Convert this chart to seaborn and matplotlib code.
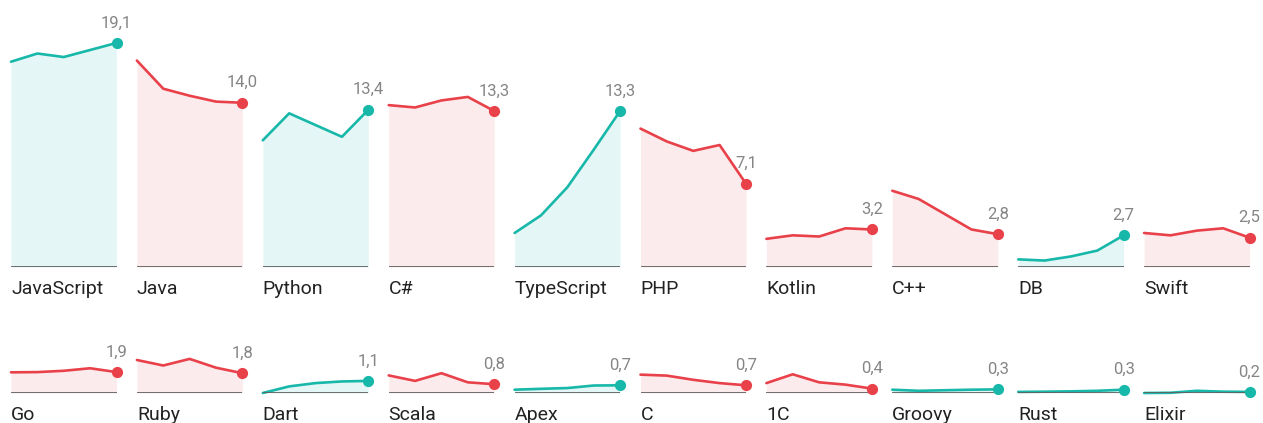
import matplotlib
matplotlib.use("Agg")
import matplotlib.pyplot as plt
import seaborn as sns
import pandas as pd

# languages, top row and bottom row
languages_top = ["JavaScript", "Java", "Python", "C#", "TypeScript",
                 "PHP", "Kotlin", "C++", "DB", "Swift"]
languages_bottom = ["Go", "Ruby", "Dart", "Scala", "Apex",
                    "C", "1C", "Groovy", "Rust", "Elixir"]

# share of vacancies (%), five periods each
values_top = [
    [17.5, 18.2, 17.9, 18.5, 19.1],
    [17.6, 15.2, 14.6, 14.1, 14.0],
    [10.8, 13.1, 12.1, 11.1, 13.4],
    [13.8, 13.6, 14.2, 14.5, 13.3],
    [2.9, 4.4, 6.8, 10.0, 13.3],
    [11.8, 10.7, 9.9, 10.4, 7.1],
    [2.4, 2.7, 2.6, 3.3, 3.2],
    [6.5, 5.8, 4.5, 3.2, 2.8],
    [0.65, 0.55, 0.9, 1.4, 2.7],
    [2.9, 2.7, 3.1, 3.3, 2.5],
]
values_bottom = [
    [1.88, 1.9, 2.02, 2.25, 1.9],
    [3.0, 2.5, 3.1, 2.3, 1.8],
    [0.0, 0.6, 0.9, 1.05, 1.1],
    [1.6, 1.1, 1.8, 0.97, 0.8],
    [0.3, 0.38, 0.45, 0.68, 0.7],
    [1.67, 1.58, 1.2, 0.9, 0.7],
    [0.9, 1.7, 0.97, 0.76, 0.4],
    [0.3, 0.2, 0.25, 0.3, 0.33],
    [0.1, 0.12, 0.15, 0.2, 0.3],
    [0.0, 0.02, 0.2, 0.12, 0.1],
]
labels_top = ["19,1", "14,0", "13,4", "13,3", "13,3", "7,1", "3,2", "2,8", "2,7", "2,5"]
labels_bottom = ["1,9", "1,8", "1,1", "0,8", "0,7", "0,7", "0,4", "0,3", "0,3", "0,2"]
trend_top = ["up", "down", "up", "down", "up", "down", "down", "down", "up", "down"]
trend_bottom = ["down", "down", "up", "down", "up", "down", "down", "up", "up", "up"]

line_colors = {"up": "#17b8a9", "down": "#e9414a"}
fill_colors = {"up": "#e4f7f6", "down": "#fcebec"}

sns.set_style("white")
plt.rcParams["font.family"] = ["Roboto", "DejaVu Sans"]

W, H = 1263, 423
fig = plt.figure(figsize=(W / 100, H / 100), dpi=100)


def draw_row(names, series, labels, trends, base_px, ymax, px_per_unit):
    height_px = ymax * px_per_unit
    for i, (name, vals, lab, tr) in enumerate(zip(names, series, labels, trends)):
        left_px = 11 + i * 125.9
        ax = fig.add_axes([left_px / W, (H - base_px) / H, 105.5 / W, height_px / H])
        df = pd.DataFrame({"period": range(len(vals)), "share": vals})
        ax.fill_between(df["period"], 0, df["share"], color=fill_colors[tr], lw=0,
                        clip_on=False)
        sns.lineplot(data=df, x="period", y="share", ax=ax, color=line_colors[tr],
                     linewidth=1.9, clip_on=False)
        last = df.iloc[-1]
        ax.scatter([last["period"]], [last["share"]], s=65, color=line_colors[tr],
                   zorder=5, clip_on=False, linewidths=0)
        ax.axhline(0, color="#606060", linewidth=2.0, zorder=4)
        ax.annotate(lab, (last["period"], last["share"]), xytext=(0, 9),
                    textcoords="offset points", ha="center", va="bottom",
                    fontsize=12, color="#858585", annotation_clip=False)
        ax.annotate(name, (0, 0), xycoords="axes fraction", xytext=(0, -9),
                    textcoords="offset points", ha="left", va="top",
                    fontsize=14, color="#222222", annotation_clip=False)
        ax.set_xlim(0, len(vals) - 1)
        ax.set_ylim(0, ymax)
        ax.set_xlabel("")
        ax.set_ylabel("")
        ax.set_xticks([])
        ax.set_yticks([])
        for s in ax.spines.values():
            s.set_visible(False)
        ax.patch.set_alpha(0)


draw_row(languages_top, values_top, labels_top, trend_top, 267, 20, 11.73)
draw_row(languages_bottom, values_bottom, labels_bottom, trend_bottom, 393, 2.5, 11.0)

fig.savefig("out.png", dpi=100)
